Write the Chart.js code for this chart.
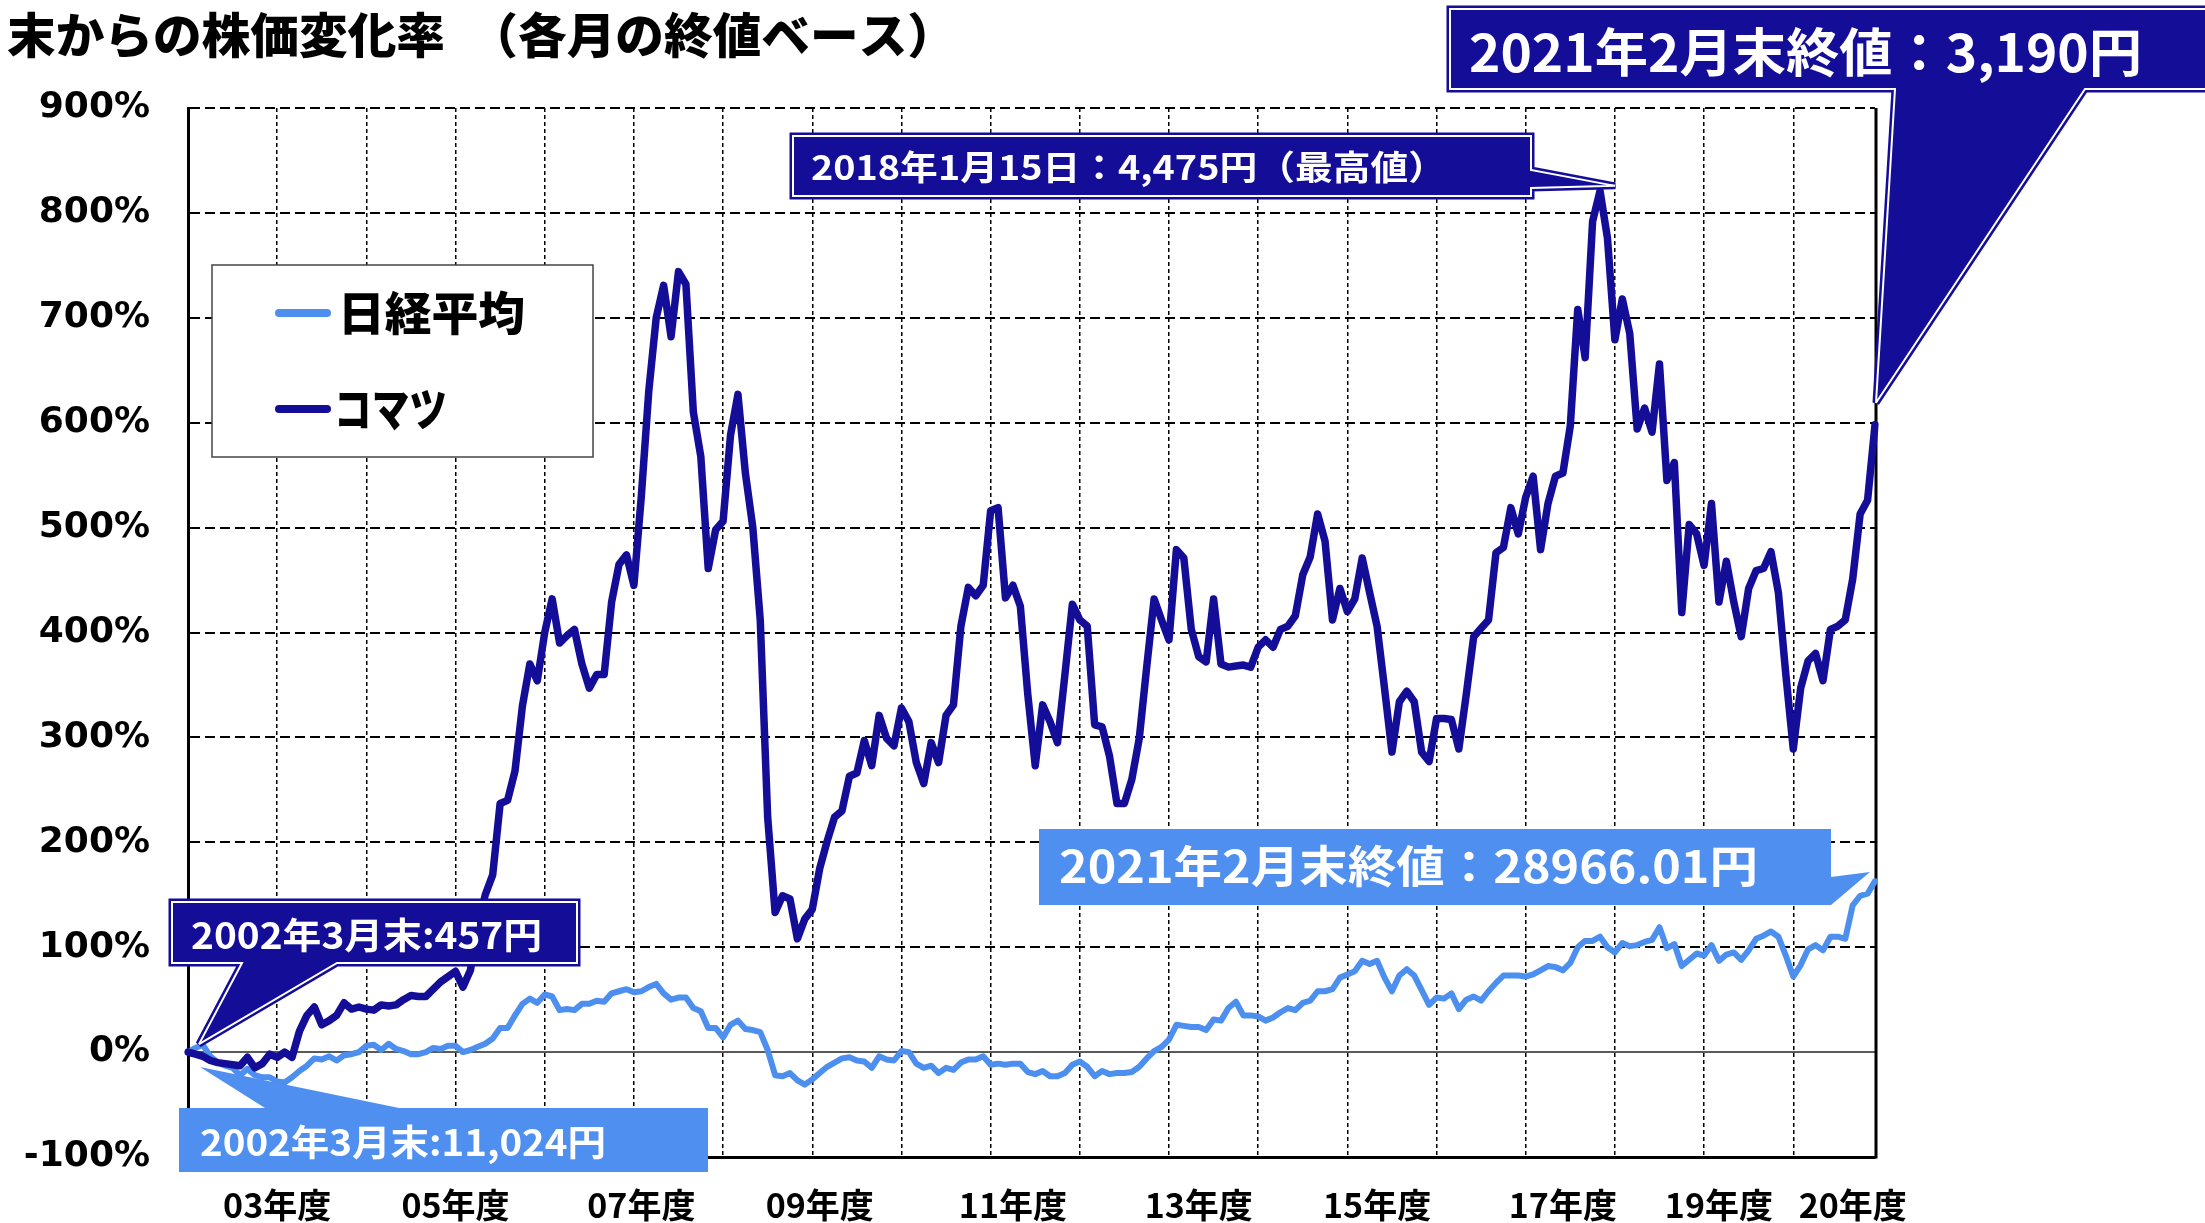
<!DOCTYPE html>
<html><head><meta charset="utf-8">
<script src="https://cdn.jsdelivr.net/npm/chart.js@4.4.1/dist/chart.umd.min.js"></script>
<style>html,body{margin:0;padding:0;background:#fff;}canvas{display:block}</style>
</head><body>
<canvas id="c" width="2205" height="1223"></canvas>
<script>
// ---------- data ----------
const TITLE = '末からの株価変化率　（各月の終値ベース）';
const SERIES_NAMES = ['日経平均', 'コマツ'];
const START_YEAR = 2002, START_MONTH = 3, N_MONTHS = 228;
const months = [];
for (let i = 0; i < N_MONTHS; i++) {
  const t = START_MONTH - 1 + i;
  months.push((START_YEAR + Math.floor(t / 12)) + '/' + String(t % 12 + 1).padStart(2, '0'));
}
// % change vs. 2002/03 month-end close
const nikkeiPct = [
  0,4,7,-4,-10,-13,-15,-22,-16,-22,
  -24,-24,-28,-29,-24,-18,-13,-6,-7,-4,-8,-3,
  -2,0,6,7,2,8,3,1,-2,-2,0,4,
  3,6,6,0,2,5,8,13,23,23,35,46,
  51,47,55,53,40,41,40,46,46,49,48,56,
  58,60,57,58,62,65,56,50,52,52,42,39,
  23,23,14,26,30,22,21,19,2,-22,-23,-20,
  -27,-31,-26,-20,-14,-10,-6,-5,-8,-9,-15,-4,
  -7,-8,1,0,-11,-15,-13,-20,-15,-17,-10,-7,
  -7,-4,-12,-11,-12,-11,-11,-19,-21,-18,-23,-23,
  -20,-12,-9,-14,-23,-18,-21,-20,-20,-19,-14,-6,
  1,5,12,26,25,24,24,21,31,30,42,48,
  35,35,34,30,33,38,42,40,47,49,58,58,
  60,71,74,77,87,84,87,71,58,73,79,73,
  59,45,52,51,56,41,50,53,49,58,66,73,
  73,73,72,74,78,82,81,78,85,100,106,106,
  110,100,95,104,101,102,105,107,119,99,103,82,
  88,94,92,102,87,93,95,88,97,108,111,115,
  110,92,72,83,98,102,97,110,110,108,140,149,
  151,163
];
const komatsuPct = [
  0,-2,-4,-8,-10,-11,-12,-13,-5,-15,-11,-2,
  -5,0,-5,20,35,43,26,30,35,47,41,43,
  41,40,45,44,45,50,54,53,53,60,67,72,
  77,62,78,120,150,169,237,240,268,330,370,354,
  400,432,390,397,403,370,347,360,360,429,465,474,
  445,530,630,700,731,682,744,732,610,568,461,498,
  506,588,627,552,500,412,224,133,149,146,108,127,
  136,175,201,224,230,263,266,297,273,321,299,292,
  328,315,276,256,295,276,321,331,406,443,435,445,
  516,519,433,445,425,341,273,331,315,295,360,427,
  412,406,312,310,282,237,237,260,299,367,432,412,
  393,479,471,403,377,372,432,370,367,368,369,367,
  386,393,386,403,406,416,455,472,513,487,412,442,
  420,432,471,438,406,347,286,334,344,334,286,277,
  318,318,317,289,341,396,404,412,476,481,519,494,
  529,549,479,523,549,552,597,708,662,792,821,776,
  679,718,685,594,614,591,656,545,562,419,503,494,
  464,523,429,468,429,396,442,459,461,477,438,360,
  289,347,373,380,354,403,406,412,451,513,526,598
];
const X_TICK_LABELS = ['03年度','05年度','07年度','09年度','11年度','13年度','15年度','17年度','19年度','20年度'];
const X_TICK_AT     = ['2003/03','2005/03','2007/04','2009/04','2011/06','2013/07','2015/07','2017/08','2019/05','2020/11'];
const Y_MIN = -100, Y_MAX = 900, Y_STEP = 100;
const TXT_KOMATSU_END   = '2021年2月末終値：3,190円';
const TXT_KOMATSU_PEAK  = '2018年1月15日：4,475円（最高値）';
const TXT_KOMATSU_START = '2002年3月末:457円';
const TXT_NIKKEI_START  = '2002年3月末:11,024円';
const TXT_NIKKEI_END    = '2021年2月末終値：28966.01円';

// ---------- style ----------
const NAVY = '#140D98';
const LIGHT = '#4D8FEE';
const CJK = '"Noto Sans CJK JP", "Noto Sans", sans-serif';

function fitText(ctx, text, x, y, font, width, color) {
  ctx.save();
  ctx.font = font; ctx.fillStyle = color; ctx.textBaseline = 'middle'; ctx.textAlign = 'left';
  const w = ctx.measureText(text).width;
  ctx.translate(x, y); ctx.scale(width / w, 1);
  ctx.fillText(text, 0, 0);
  ctx.restore();
}
function shape(ctx, pts, fill, framed) {
  ctx.save();
  ctx.beginPath();
  pts.forEach((p, i) => i ? ctx.lineTo(p[0], p[1]) : ctx.moveTo(p[0], p[1]));
  ctx.closePath();
  ctx.lineJoin = 'miter'; ctx.miterLimit = 2;
  ctx.fillStyle = fill;
  if (framed) {
    ctx.strokeStyle = fill; ctx.lineWidth = 7; ctx.stroke();
    ctx.fill();
    ctx.strokeStyle = '#fff'; ctx.lineWidth = 2; ctx.stroke();
  } else {
    ctx.fill();
  }
  ctx.restore();
}

const deco = {
  id: 'deco',
  beforeDatasetsDraw(chart) {
    const {ctx, chartArea: a, scales: {y}} = chart;
    ctx.save();
    const y0 = y.getPixelForValue(0);
    ctx.strokeStyle = '#5a5a5a'; ctx.lineWidth = 2;
    ctx.beginPath(); ctx.moveTo(a.left, y0); ctx.lineTo(a.right, y0); ctx.stroke();
    ctx.strokeStyle = '#000'; ctx.lineWidth = 3;
    ctx.beginPath(); ctx.moveTo(a.right + 1, a.top); ctx.lineTo(a.right + 1, a.bottom + 1.5); ctx.stroke();
    ctx.restore();
  },
  afterDraw(chart) {
    const {ctx, scales: {x, y}} = chart;
    // title
    fitText(ctx, TITLE, 7, 35, '900 48px ' + CJK, 949, '#000');
    // x labels
    ctx.save();
    ctx.font = 'bold 34px ' + CJK; ctx.fillStyle = '#000'; ctx.textAlign = 'center'; ctx.textBaseline = 'middle';
    X_TICK_LABELS.forEach((t, i) => {
      ctx.fillText(t, x.getPixelForValue(months.indexOf(X_TICK_AT[i])), 1205);
    });
    ctx.restore();
    // legend
    ctx.save();
    ctx.fillStyle = '#fff'; ctx.fillRect(212, 265, 381, 192);
    ctx.strokeStyle = '#444'; ctx.lineWidth = 1.5; ctx.strokeRect(212, 265, 381, 192);
    const ds = chart.data.datasets;
    const leg = [[ds[1], 313, 338, 187], [ds[0], 409, 334, 113]];
    leg.forEach(([d, ly, tx, tw]) => {
      ctx.strokeStyle = d.borderColor; ctx.lineWidth = 8; ctx.lineCap = 'round';
      ctx.beginPath(); ctx.moveTo(279, ly); ctx.lineTo(327, ly); ctx.stroke();
      fitText(ctx, d.label, tx, ly, '900 46px ' + CJK, tw, '#000');
    });
    ctx.restore();

    const last = N_MONTHS - 1;
    const kx = x.getPixelForValue(last), ky = y.getPixelForValue(komatsuPct[last]);
    const nky = y.getPixelForValue(nikkeiPct[last]);
    const x0 = x.getPixelForValue(0), y0 = y.getPixelForValue(0);
    let pk = 0; komatsuPct.forEach((v, i) => { if (v > komatsuPct[pk]) pk = i; });
    const px = x.getPixelForValue(pk), py = y.getPixelForValue(komatsuPct[pk]);

    // Nikkei end
    shape(ctx, [[1039, 829], [1831, 829], [1831, 877], [kx - 5, nky - 9], [1831, 905], [1039, 905]], '#4F8FEF', false);
    fitText(ctx, TXT_NIKKEI_END, 1059, 866, 'bold 44px ' + CJK, 699, '#fff');
    // Nikkei start
    shape(ctx, [[179, 1108], [265, 1108], [x0 + 12, y0 + 15], [399, 1108], [708, 1108], [708, 1172], [179, 1172]], '#4F8FEF', false);
    fitText(ctx, TXT_NIKKEI_START, 200, 1142, 'bold 36px ' + CJK, 406, '#fff');
    // Komatsu start
    shape(ctx, [[172, 902], [577, 902], [577, 963], [337, 963], [x0 + 11, y0 - 8], [242, 963], [172, 963]], NAVY, true);
    fitText(ctx, TXT_KOMATSU_START, 191, 935, 'bold 36px ' + CJK, 351, '#fff');
    // Komatsu peak
    shape(ctx, [[793, 136], [1531, 136], [1531, 170], [px + 15, py - 5], [1531, 188], [1531, 196], [793, 196]], NAVY, true);
    fitText(ctx, TXT_KOMATSU_PEAK, 811, 167, 'bold 34px ' + CJK, 635, '#fff');
    // Komatsu end
    shape(ctx, [[1450, 9], [2215, 9], [2215, 89], [2085, 89], [kx + 1, ky - 22], [1895, 89], [1450, 89]], NAVY, true);
    fitText(ctx, TXT_KOMATSU_END, 1469, 52, 'bold 52px ' + CJK, 673, '#fff');
  }
};

new Chart(document.getElementById('c'), {
  type: 'line',
  data: {
    labels: months,
    datasets: [
      {label: SERIES_NAMES[1], data: komatsuPct, borderColor: NAVY, borderWidth: 7.5, pointRadius: 0, tension: 0,
       borderJoinStyle: 'round', borderCapStyle: 'round', fill: false},
      {label: SERIES_NAMES[0], data: nikkeiPct, borderColor: LIGHT, borderWidth: 6, pointRadius: 0, tension: 0,
       borderJoinStyle: 'round', borderCapStyle: 'round', fill: false}
    ]
  },
  options: {
    responsive: false, animation: false, devicePixelRatio: 1,
    layout: {padding: {top: 108, right: 330, left: 0, bottom: 0}},
    plugins: {legend: {display: false}, tooltip: {enabled: false}},
    scales: {
      x: {
        type: 'category', offset: false,
        grid: {color: '#000', lineWidth: 1.5, drawTicks: false},
        border: {display: true, color: '#000', width: 3, dash: [4, 3]},
        ticks: {display: false},
        afterBuildTicks: s => { s.ticks = s.ticks.filter(t => t.value > 0 && months[t.value].endsWith('/03')); },
        afterFit: s => { s.height = 66; }
      },
      y: {
        min: Y_MIN, max: Y_MAX,
        ticks: {stepSize: Y_STEP, callback: v => v + '%', color: '#000', padding: 38,
                font: {family: '"DejaVu Sans"', weight: 'bold', size: 36}},
        grid: {color: c => (c.tick && (c.tick.value === 0 || c.tick.value === Y_MIN)) ? 'rgba(0,0,0,0)' : '#000',
               lineWidth: 2, drawTicks: false},
        border: {display: true, color: '#000', width: 3, dash: [10, 5]},
        afterFit: s => { s.width = 188; }
      }
    }
  },
  plugins: [deco]
});
</script>
</body></html>
